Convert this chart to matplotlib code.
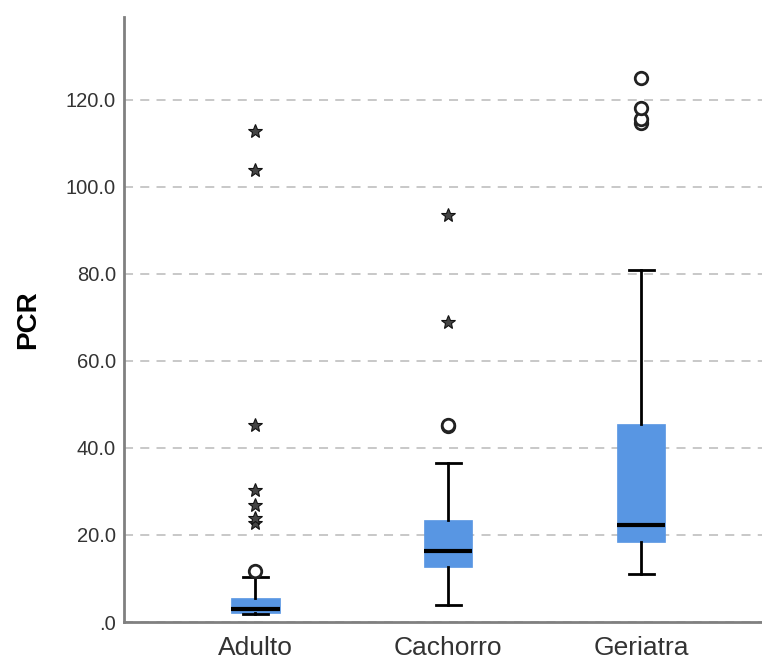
import numpy as np
import matplotlib
matplotlib.use('Agg')
from matplotlib import pyplot as plt

plt.rcParams['font.family'] = ['Liberation Sans', 'DejaVu Sans']

# datos (PCR por grupo de edad)
grupos = ['Adulto', 'Cachorro', 'Geriatra']
q1 = [2.1, 12.6, 18.3]
mediana = [2.9, 16.3, 22.4]
q3 = [5.5, 23.4, 45.5]
bigote_inf = [1.9, 3.9, 11.1]
bigote_sup = [10.4, 36.6, 80.9]
# valores atípicos (círculos) y extremos (estrellas)
atipicos = [[11.7], [45.1, 45.3], [114.8, 115.6, 118.2, 125.0]]
extremos = [[22.7, 23.8, 27.0, 30.3, 45.3, 103.9, 112.9], [69.0, 93.6], []]
yticks = [0, 20, 40, 60, 80, 100, 120]
ytick_labels = ['.0', '20.0', '40.0', '60.0', '80.0', '100.0', '120.0']

azul = '#5896e3'

fig = plt.figure(figsize=(7.62, 6.62), dpi=100)
ax = fig.add_axes([0.163, 0.0604, 0.837, 0.9136])

stats = []
for i in range(len(grupos)):
    stats.append(dict(med=mediana[i], q1=q1[i], q3=q3[i],
                      whislo=bigote_inf[i], whishi=bigote_sup[i],
                      fliers=[], label=grupos[i]))

pos = np.arange(1, len(grupos) + 1)
ax.bxp(stats, positions=pos, widths=0.25, showfliers=False, patch_artist=True,
       boxprops=dict(facecolor=azul, edgecolor=azul, linewidth=0.5),
       medianprops=dict(color='black', linewidth=3),
       whiskerprops=dict(color='black', linewidth=2),
       capprops=dict(color='black', linewidth=2), capwidths=0.13,
       zorder=3)

for i, p in enumerate(pos):
    if atipicos[i]:
        ax.plot([p] * len(atipicos[i]), atipicos[i], 'o', mfc='white', mec='#222222',
                mew=2, ms=9, zorder=4)
    if extremos[i]:
        ax.plot([p] * len(extremos[i]), extremos[i], '*', mfc='#444444', mec='#111111',
                ms=10, mew=0.8, zorder=4)

ax.set_xlim(0.32, 3.626)
ax.set_ylim(0, 139)
ax.set_yticks(yticks)
ax.set_yticklabels(ytick_labels)
ax.grid(axis='y', linestyle=(0, (5, 4)), color='#c4c4c4', linewidth=1.3, zorder=0)
ax.tick_params(axis='y', length=0, pad=6, labelsize=14.5, labelcolor='#333333')
ax.tick_params(axis='x', length=0, pad=10, labelsize=19, labelcolor='#333333')
ax.set_ylabel('PCR', fontsize=20, fontweight='bold', labelpad=18)

for s in ['top', 'right']:
    ax.spines[s].set_visible(False)
ax.spines['left'].set_color('#808080')
ax.spines['left'].set_linewidth(2)
ax.spines['bottom'].set_color('#808080')
ax.spines['bottom'].set_linewidth(2)

fig.savefig('out.png', dpi=100)
